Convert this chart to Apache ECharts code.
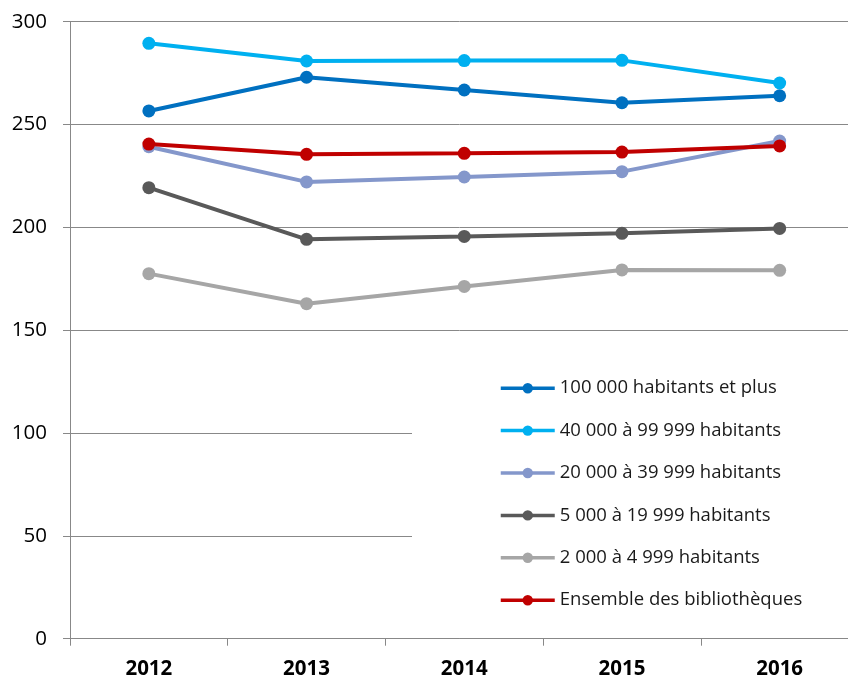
<!DOCTYPE html>
<html>
<head>
<meta charset="utf-8">
<script src="https://cdn.jsdelivr.net/npm/echarts@6/dist/echarts.min.js"></script>
<style>
  html, body { margin: 0; padding: 0; background: #fff; }
  #chart { width: 848px; height: 682px; }
</style>
</head>
<body>
<div id="chart"></div>
<script>
// Années
const years = ['2012', '2013', '2014', '2015', '2016'];

// Valeurs par tranche de population
const hab100k = [256.6, 273.0, 266.8, 260.6, 264.0];
const hab40k = [289.5, 280.9, 281.1, 281.2, 270.2];
const hab20k = [239.2, 222.1, 224.5, 227.1, 242.0];
const hab5k = [219.3, 194.2, 195.6, 197.1, 199.5];
const hab2k = [177.5, 162.9, 171.3, 179.3, 179.1];
const ensemble = [240.5, 235.5, 236.0, 236.6, 239.6];

const seriesNames = [
  '100 000 habitants et plus',
  '40 000 à 99 999 habitants',
  '20 000 à 39 999 habitants',
  '5 000 à 19 999 habitants',
  '2 000 à 4 999 habitants',
  'Ensemble des bibliothèques'
];
const seriesData = [hab100k, hab40k, hab20k, hab5k, hab2k, ensemble];
const colors = ['#0070C0', '#00B0F0', '#8497CB', '#595959', '#A6A6A6', '#C00000'];

const FONT = '"Open Sans", "Noto Sans", sans-serif';
const AXIS_GRAY = '#888888';

const chart = echarts.init(document.getElementById('chart'), null, { renderer: 'canvas' });

chart.setOption({
  animation: false,
  backgroundColor: '#ffffff',
  grid: {
    left: 70,
    top: 21.7,
    width: 788.5,
    height: 617,
    containLabel: false,
    outerBoundsMode: 'none'
  },
  xAxis: {
    type: 'category',
    data: years,
    boundaryGap: true,
    axisLine: { show: true, lineStyle: { color: AXIS_GRAY, width: 1 } },
    axisTick: { show: true, length: 7, lineStyle: { color: AXIS_GRAY } },
    axisLabel: {
      color: '#000',
      fontFamily: FONT,
      fontWeight: 'bold',
      fontSize: 20.5,
      margin: 20
    },
    splitLine: { show: false }
  },
  yAxis: {
    type: 'value',
    min: 0,
    max: 300,
    interval: 50,
    axisLine: { show: true, lineStyle: { color: AXIS_GRAY, width: 1 } },
    axisTick: { show: true, length: 7, lineStyle: { color: AXIS_GRAY } },
    axisLabel: {
      color: '#000',
      fontFamily: FONT,
      fontSize: 20.5,
      margin: 23
    },
    splitLine: { show: true, lineStyle: { color: AXIS_GRAY, width: 1 } }
  },
  legend: {
    orient: 'vertical',
    left: 412,
    top: 363.7,
    padding: [15, 60, 16, 87],
    backgroundColor: '#ffffff',
    itemWidth: 54,
    itemHeight: 13,
    itemGap: 23.4,
    lineStyle: { width: 3.5 },
    textStyle: {
      color: '#1a1a1a',
      fontFamily: FONT,
      fontSize: 18.5
    },
    data: seriesNames
  },
  series: seriesNames.map((name, i) => ({
    name: name,
    type: 'line',
    data: seriesData[i],
    symbol: 'circle',
    symbolSize: 13,
    color: colors[i],
    lineStyle: { color: colors[i], width: 4 },
    itemStyle: { color: colors[i] }
  }))
});
</script>
</body>
</html>
